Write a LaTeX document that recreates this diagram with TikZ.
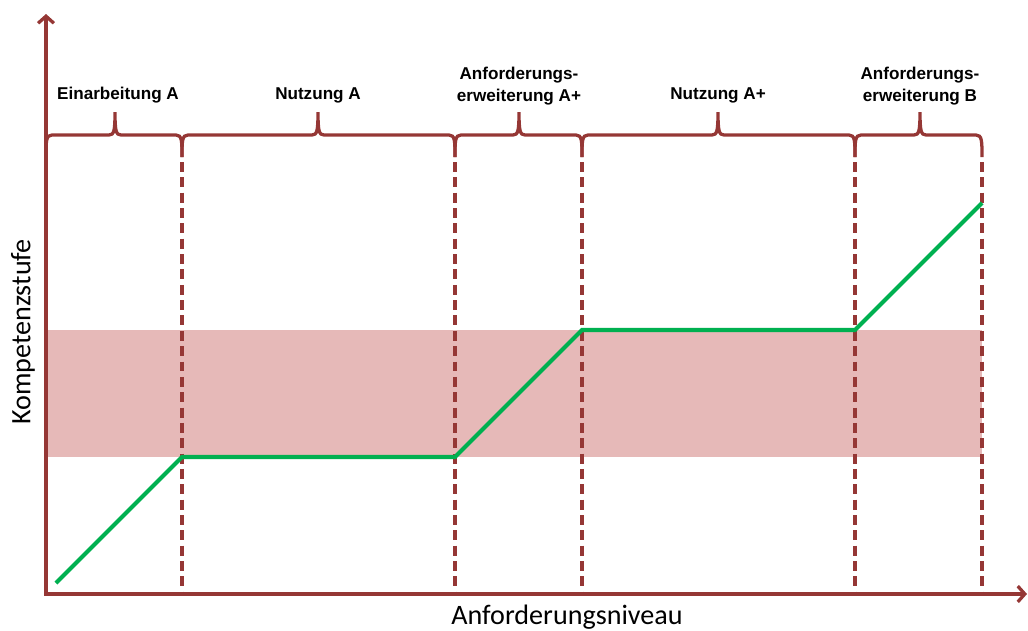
\documentclass[tikz,border=0pt]{standalone}
\usepackage{fontspec}
\setmainfont{Liberation Sans}
\newfontfamily\axisfont{Carlito}
\usetikzlibrary{arrows.meta}
\definecolor{axisred}{HTML}{953735}
\definecolor{bandpink}{HTML}{E6B9B8}
\definecolor{curvegreen}{HTML}{00B050}
\newcommand\phbrace[3]{%
  \draw[bracestyle] (#1,157) .. controls (#1,141) and (#1,135) .. (#1+6,135) -- (#2-6,135)
    .. controls (#2-1,135) and (#2,131) .. (#2,112)
    .. controls (#2,131) and (#2+1,135) .. (#2+6,135) -- (#3-6,135)
    .. controls (#3,135) and (#3,141) .. (#3,157);}
\begin{document}
\begin{tikzpicture}[x=0.03cm,y=-0.03cm,
  axisline/.style={draw=axisred, line width=2.8pt, line cap=rect},
  bracestyle/.style={draw=axisred, line width=2.8pt},
  dashline/.style={draw=axisred, line width=3pt, dash pattern=on 8.5pt off 4.6pt},
  lab/.style={font=\fontsize{14.6}{16.5}\selectfont\bfseries, align=center, inner sep=0pt},
  axlab/.style={font=\axisfont\fontsize{24}{28}\selectfont, inner sep=0pt},
  curve/.style={draw=curvegreen, line width=3.6pt}]
\useasboundingbox (0,0) rectangle (1028,630);
% band
\fill[bandpink] (46,330) rectangle (982,457);
% dashed separators
\foreach \x in {182,455,582,855,982}
  \draw[dashline] (\x,162) -- (\x,594);
% braces
\phbrace{46}{115}{182}
\phbrace{182}{318}{455}
\phbrace{455}{519}{582}
\phbrace{582}{718}{855}
\phbrace{855}{920}{982}
% labels
\node[lab] (l1) at (118,95) {Einarbeitung A};
\node[lab] (l2) at (318,95) {Nutzung A};
\node[lab] (l3) at (519,86) {Anforderungs-\\[2pt]erweiterung A+};
\node[lab] (l4) at (718,95) {Nutzung A+};
\node[lab] (l5) at (920,86) {Anforderungs-\\[2pt]erweiterung B};
% green curve
\draw[curve] (56,583) -- (182,457) -- (455,457) -- (582,330) -- (855,330) -- (982,203);
% axes
\coordinate (o) at (46,594);
\coordinate (ytop) at (46,14);
\coordinate (xend) at (1027,594);
\draw[axisline, -{Straight Barb[length=6pt,width=13.5pt,line width=2.8pt]}] (o) -- (ytop);
\draw[axisline, -{Straight Barb[length=6pt,width=13.5pt,line width=2.8pt]}] (o) -- (xend);
% axis labels
\node[axlab] (xl) at (567,617) {Anforderungsniveau};
\node[axlab, rotate=90] (yl) at (23,332) {Kompetenzstufe};
\end{tikzpicture}
\end{document}
